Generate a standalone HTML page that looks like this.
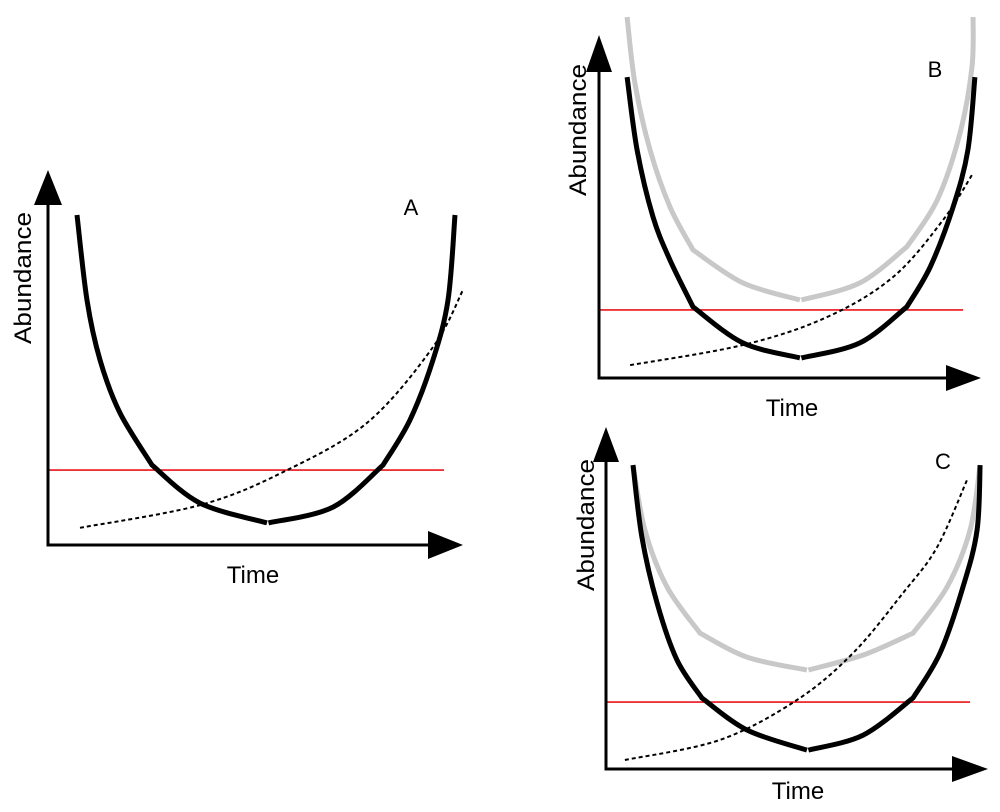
<!DOCTYPE html>
<html><head><meta charset="utf-8"><style>
html,body{margin:0;padding:0;background:#fff;}
svg{display:block;font-family:"Liberation Sans",Arial,sans-serif;}
</style></head><body>
<svg id="fig" width="1000" height="812" viewBox="0 0 1000 812"></svg>
<script>
// Panel A data (t: time 0..100, a: abundance)
const aBlackT=[7.25,9.75,13,18,26,38,54.75,71.25,83.75,90.5,96.25,100,101.75];
const aBlackA=[100,74.2,56.1,40,24.2,12.7,6.7,11.5,24.2,37.9,56.1,74.2,100];
const aDotT=[8,38,58.75,79.75,96.25,103.75];
const aDotA=[5.2,12.1,22.1,37,60,77.3];
const aThreshold=22.7, aThreshEnd=99;
// Panel B data
const bBlackT=[7.6,10.3,14.6,19.2,25.4,38.9,54.3,70.5,83.2,89.5,95.7,99.7,101.6];
const bBlackA=[100.3,76,53.7,39.3,23.7,11.7,6.7,11.7,23.7,37,57,76,100.3];
const bGrayT=[7.6,9.7,13.8,19.2,25.4,38.9,54.3,70.5,83.2,91.4,97.6,100.8,101.1];
const bGrayA=[120.3,98.3,76,57,42.7,31.7,26,31.7,43.7,59.3,81.7,103.7,120.3];
const bDotT=[8.4,38.9,61.6,79.5,93,101.1];
const bDotA=[4.3,11,20.3,33.7,52.7,68.3];
const bThreshold=22.7, bThreshEnd=98.4;
// Panel C data
const cBlackT=[7.3,9.7,13.8,19.2,25.9,38.1,54.3,69.5,83,90.3,96.5,100.3,101.1];
const cBlackA=[101.3,77.3,55.3,36.3,23.7,13,6.3,11.3,23.7,38.7,60.7,79.7,101.3];
const cGrayT=[7.3,10.5,16.5,25.4,38.1,54.3,69.5,83,92.2,98.4,101.1];
const cGrayA=[101.3,79.7,60.7,45.3,37.3,33,38,45.3,60.7,79.7,101.3];
const cDotT=[5.1,30.8,51.6,66.8,80.3,89.5,97.8];
const cDotA=[3,9.7,23,38.7,58.7,74,97];
const cThreshold=22.3, cThreshEnd=98.4;

const NS="http://www.w3.org/2000/svg";
const svg=document.getElementById('fig');
function mk(tag,attrs,parent){const e=document.createElementNS(NS,tag);for(const k in attrs)e.setAttribute(k,attrs[k]);(parent||svg).appendChild(e);return e;}

const panels=[
 {id:'a',label:'A',x0:48,kx:4,y0:545,ky:3.3,yTip:170,yBase:205,xTip:463,xBase:428,hw:14,
  lab:[411,215],time:[253,583],ab:[31,278],
  black:[aBlackT,aBlackA],bk:[4,8],gray:null,gk:null,dot:[aDotT,aDotA],th:aThreshold,thEnd:aThreshEnd},
 {id:'b',label:'B',x0:599,kx:3.7,y0:378,ky:3,yTip:35,yBase:72,xTip:981,xBase:946,hw:13,
  lab:[935,77],time:[792,416],ab:[586,130],
  black:[bBlackT,bBlackA],bk:[4,8],gray:[bGrayT,bGrayA],gk:[4,8],dot:[bDotT,bDotA],th:bThreshold,thEnd:bThreshEnd},
 {id:'c',label:'C',x0:606,kx:3.7,y0:769,ky:3,yTip:427,yBase:462,xTip:988,xBase:952,hw:13,
  lab:[943,469],time:[798,799],ab:[594,525],
  black:[cBlackT,cBlackA],bk:[4,8],gray:[cGrayT,cGrayA],gk:[3,7],dot:[cDotT,cDotA],th:cThreshold,thEnd:cThreshEnd}
];

function smooth(P){
  let d='M'+P[0][0].toFixed(1)+','+P[0][1].toFixed(1);
  for(let i=0;i<P.length-1;i++){
    const p0=P[i?i-1:i],p1=P[i],p2=P[i+1],p3=P[Math.min(i+2,P.length-1)];
    const c1x=p1[0]+(p2[0]-p0[0])/6,c1y=p1[1]+(p2[1]-p0[1])/6;
    const c2x=p2[0]-(p3[0]-p1[0])/6,c2y=p2[1]-(p3[1]-p1[1])/6;
    d+='C'+c1x.toFixed(1)+','+c1y.toFixed(1)+' '+c2x.toFixed(1)+','+c2y.toFixed(1)+' '+p2[0].toFixed(1)+','+p2[1].toFixed(1);
  }
  return d;
}

panels.forEach(p=>{
  const g=mk('g',{});
  
  
  const xs=t=>p.x0+t*p.kx, ys=a=>p.y0-a*p.ky;
  function uCurve(T,A,kinks,color,name){
    let m=0;for(let i=1;i<A.length;i++)if(A[i]<A[m])m=i;
    const pts=T.map((t,i)=>[xs(t),ys(A[i])]);
    const segs=[[0,kinks[0]],[kinks[0],m],[m,kinks[1]],[kinks[1],T.length-1]];
    let dl='',dr='';
    segs.forEach((s,si)=>{
      const P=pts.slice(s[0],s[1]+1).map(q=>q.slice());
      if(si===2)P[0][0]+=1.5;
      const d=smooth(P);
      if(si<2)dl+=(dl?d.replace(/^M[^C]*/,''):d);else dr+=(dr?d.replace(/^M[^C]*/,''):d);
    });
    const l=mk('path',{d:dl,fill:'none',stroke:color,'stroke-width':5,'stroke-linejoin':'round'},g);
    
    
    const r=mk('path',{d:dr,fill:'none',stroke:color,'stroke-width':5,'stroke-linejoin':'round'},g);
    
    
  }
  if(p.gray)uCurve(p.gray[0],p.gray[1],p.gk,'#c8c8c8','gray-curve');
  const red=mk('line',{x1:xs(0),x2:xs(p.thEnd),y1:ys(p.th),y2:ys(p.th),stroke:'#e8141c','stroke-width':1.6},g);
  
  
  uCurve(p.black[0],p.black[1],p.bk,'#000','black-curve');
  const T=p.dot[0],A=p.dot[1];
  const dot=mk('path',{d:smooth(T.map((t,i)=>[xs(t),ys(A[i])])),fill:'none',stroke:'#000','stroke-width':2,'stroke-dasharray':'4,3'},g);
  
  
  const ya=mk('line',{x1:p.x0,x2:p.x0,y1:p.y0+1.5,y2:p.yBase,stroke:'#000','stroke-width':3},g);
  
  
  const yh=mk('polygon',{points:`${p.x0},${p.yTip} ${p.x0-p.hw},${p.yBase} ${p.x0+p.hw},${p.yBase}`,fill:'#000'},g);
  
  
  const xa=mk('line',{x1:p.x0-1.5,x2:p.xBase,y1:p.y0,y2:p.y0,stroke:'#000','stroke-width':3},g);
  
  
  const xh=mk('polygon',{points:`${p.xTip},${p.y0} ${p.xBase},${p.y0-p.hw} ${p.xBase},${p.y0+p.hw}`,fill:'#000'},g);
  
  
  const pl=mk('text',{x:p.lab[0],y:p.lab[1],'font-size':22,'text-anchor':'middle'},g);
  pl.textContent=p.label;
  
  
  const tl=mk('text',{x:p.time[0],y:p.time[1],'font-size':24,'text-anchor':'middle'},g);
  tl.textContent='Time';
  
  
  const al=mk('text',{x:p.ab[0],y:p.ab[1],'font-size':24,'text-anchor':'middle',textLength:132,lengthAdjust:'spacingAndGlyphs',transform:`rotate(-90 ${p.ab[0]} ${p.ab[1]})`},g);
  al.textContent='Abundance';
  
  
});
</script>
</body></html>
